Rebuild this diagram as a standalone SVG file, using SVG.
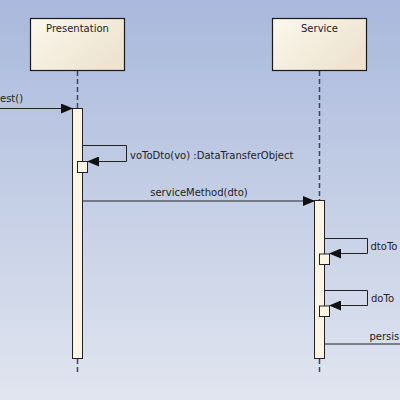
<svg xmlns="http://www.w3.org/2000/svg" width="400" height="400" viewBox="0 0 400 400">
<defs>
<linearGradient id="bg" x1="0" y1="0" x2="0" y2="1">
<stop offset="0" stop-color="#a9b8dc"/>
<stop offset="1" stop-color="#e0e5ef"/>
</linearGradient>
<linearGradient id="box" x1="0" y1="0" x2="1" y2="0.6">
<stop offset="0" stop-color="#fcf8ee"/>
<stop offset="1" stop-color="#ede3cf"/>
</linearGradient>
<marker id="ah" markerWidth="12" markerHeight="10" refX="11" refY="5" orient="auto" markerUnits="userSpaceOnUse">
<path d="M0,0 L12,5 L0,10 Z" fill="#111"/>
</marker>
<style>
.box{fill:url(#box);stroke:#1a1a1a;stroke-width:1.2}
.act{fill:#fcf5e6;stroke:#222;stroke-width:1}
.life{stroke:#3a4560;stroke-width:1.5;stroke-dasharray:5,3;fill:none}
.msg{stroke:#222;stroke-width:1;fill:none}
.t{font-family:"DejaVu Sans",Verdana,sans-serif;font-size:10px;fill:#222}
</style>
</defs>
<rect width="400" height="400" fill="url(#bg)"/>
<g id="lifelines">
<line class="life" x1="77.5" y1="71" x2="77.5" y2="108"/>
<line class="life" x1="77.5" y1="359" x2="77.5" y2="373"/>
<line class="life" x1="319.5" y1="71" x2="319.5" y2="200"/>
<line class="life" x1="319.5" y1="359" x2="319.5" y2="374"/>
</g>
<g id="presentation">
<rect class="box" x="30.5" y="18.5" width="94" height="52"/>
<text class="t" x="77.5" y="32" text-anchor="middle">Presentation</text>
<rect class="act" x="72.5" y="108.5" width="10" height="250"/>
</g>
<g id="service">
<rect class="box" x="272.5" y="18.5" width="94" height="52"/>
<text class="t" x="319.5" y="32" text-anchor="middle">Service</text>
<rect class="act" x="314.5" y="200.5" width="10" height="158"/>
</g>
<g id="connectors">
<line class="msg" x1="0" y1="108.5" x2="72" y2="108.5" marker-end="url(#ah)"/>
<text class="t" x="0" y="102">est()</text>
<polyline class="msg" points="82.5,145.5 126.5,145.5 126.5,161.5 88,161.5" marker-end="url(#ah)"/>
<text class="t" x="130" y="159">voToDto(vo) :DataTransferObject</text>
<line class="msg" x1="82.5" y1="201" x2="314" y2="201" marker-end="url(#ah)"/>
<text class="t" x="199" y="196" text-anchor="middle">serviceMethod(dto)</text>
<polyline class="msg" points="324.5,238.5 367.5,238.5 367.5,253.5 330,253.5" marker-end="url(#ah)"/>
<text class="t" x="370.5" y="250">dtoTo</text>
<polyline class="msg" points="324.5,290.5 367.5,290.5 367.5,305.5 330,305.5" marker-end="url(#ah)"/>
<text class="t" x="371" y="302">doTo</text>
<line class="msg" x1="324.5" y1="344" x2="400" y2="344"/>
<text class="t" x="369.5" y="340">persis</text>
</g>
<g id="returns">
<rect class="act" x="77.5" y="161.5" width="10" height="11"/>
<rect class="act" x="319.5" y="254" width="10" height="10.5"/>
<rect class="act" x="319.5" y="306" width="10" height="10.5"/>
</g>
</svg>
